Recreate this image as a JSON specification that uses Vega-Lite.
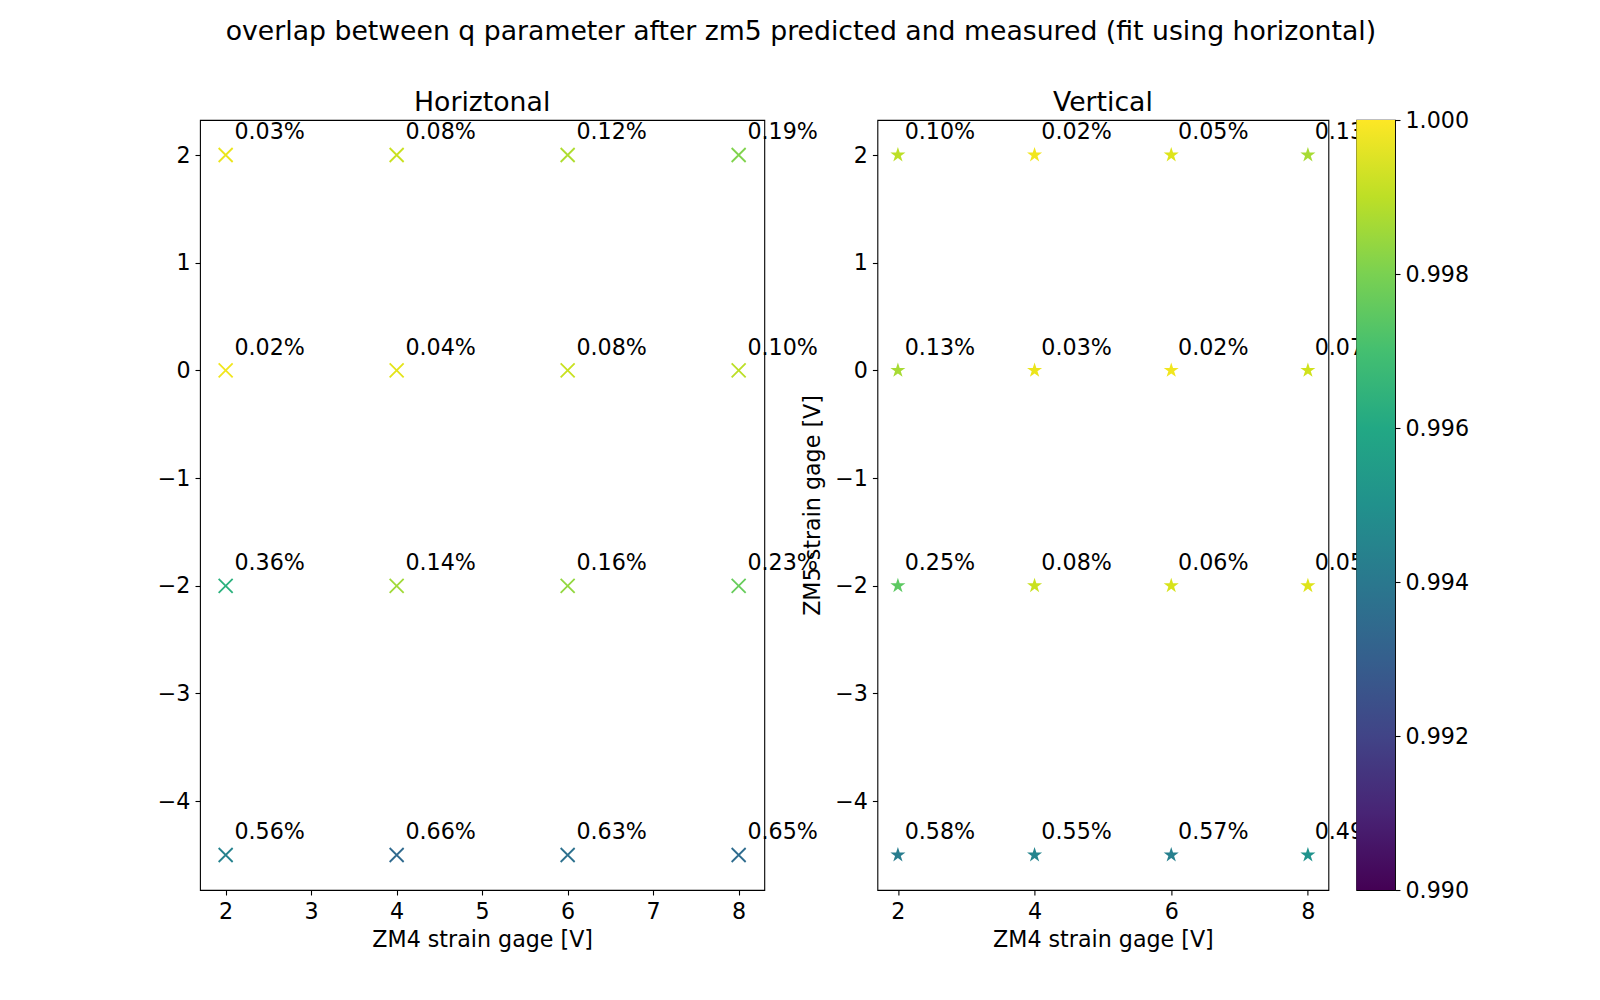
{
  "$schema": "https://vega.github.io/schema/vega-lite/v6.json",
  "autosize": {"type": "none"},
  "padding": {"left": 200, "top": 120, "right": 1400, "bottom": 880},
  "background": "white",
  "title": {
    "text": "overlap between q parameter after zm5 predicted and measured (fit using horizontal)",
    "anchor": "middle",
    "fontSize": 26.7,
    "baseline": "alphabetic",
    "offset": 23,
    "dx": -12
  },
  "config": {
    "font": "DejaVu Sans",
    "view": {"stroke": "black", "strokeWidth": 1.1},
    "axis": {
      "domain": false,
      "grid": false,
      "tickColor": "black",
      "tickSize": 5,
      "tickWidth": 1.1,
      "labelFont": "DejaVu Sans",
      "labelFontSize": 22.2,
      "labelColor": "black",
      "labelFlush": false,
      "labelOverlap": false,
      "titleFont": "DejaVu Sans",
      "titleFontSize": 22.2,
      "titleFontWeight": "normal",
      "titleColor": "black"
    },
    "axisX": {"labelAngle": 0, "labelPadding": 5.5, "titlePadding": 6},
    "axisY": {"labelPadding": 5, "titlePadding": 10},
    "title": {"font": "DejaVu Sans", "fontSize": 26.7, "fontWeight": "normal", "color": "black"}
  },
  "datasets": {
    "horizontal": [
      {"x": 2, "y": 2, "overlap": 0.9997, "label": "0.03%"},
      {"x": 4, "y": 2, "overlap": 0.9992, "label": "0.08%"},
      {"x": 6, "y": 2, "overlap": 0.9988, "label": "0.12%"},
      {"x": 8, "y": 2, "overlap": 0.9981, "label": "0.19%"},
      {"x": 2, "y": 0, "overlap": 0.9998, "label": "0.02%"},
      {"x": 4, "y": 0, "overlap": 0.9996, "label": "0.04%"},
      {"x": 6, "y": 0, "overlap": 0.9992, "label": "0.08%"},
      {"x": 8, "y": 0, "overlap": 0.999, "label": "0.10%"},
      {"x": 2, "y": -2, "overlap": 0.9964, "label": "0.36%"},
      {"x": 4, "y": -2, "overlap": 0.9986, "label": "0.14%"},
      {"x": 6, "y": -2, "overlap": 0.9984, "label": "0.16%"},
      {"x": 8, "y": -2, "overlap": 0.9977, "label": "0.23%"},
      {"x": 2, "y": -4.5, "overlap": 0.9944, "label": "0.56%"},
      {"x": 4, "y": -4.5, "overlap": 0.9934, "label": "0.66%"},
      {"x": 6, "y": -4.5, "overlap": 0.9937, "label": "0.63%"},
      {"x": 8, "y": -4.5, "overlap": 0.9935, "label": "0.65%"}
    ],
    "vertical": [
      {"x": 2, "y": 2, "overlap": 0.999, "label": "0.10%"},
      {"x": 4, "y": 2, "overlap": 0.9998, "label": "0.02%"},
      {"x": 6, "y": 2, "overlap": 0.9995, "label": "0.05%"},
      {"x": 8, "y": 2, "overlap": 0.9987, "label": "0.13%"},
      {"x": 2, "y": 0, "overlap": 0.9987, "label": "0.13%"},
      {"x": 4, "y": 0, "overlap": 0.9997, "label": "0.03%"},
      {"x": 6, "y": 0, "overlap": 0.9998, "label": "0.02%"},
      {"x": 8, "y": 0, "overlap": 0.9993, "label": "0.07%"},
      {"x": 2, "y": -2, "overlap": 0.9975, "label": "0.25%"},
      {"x": 4, "y": -2, "overlap": 0.9992, "label": "0.08%"},
      {"x": 6, "y": -2, "overlap": 0.9994, "label": "0.06%"},
      {"x": 8, "y": -2, "overlap": 0.9995, "label": "0.05%"},
      {"x": 2, "y": -4.5, "overlap": 0.9942, "label": "0.58%"},
      {"x": 4, "y": -4.5, "overlap": 0.9945, "label": "0.55%"},
      {"x": 6, "y": -4.5, "overlap": 0.9943, "label": "0.57%"},
      {"x": 8, "y": -4.5, "overlap": 0.9951, "label": "0.49%"}
    ],
    "colorbar": [
      {"lo": 0.99, "hi": 1.0}
    ]
  },
  "bounds": "flush",
  "spacing": 112.4,
  "hconcat": [
    {
      "width": 564.3,
      "height": 770,
      "title": {"text": "Horiztonal", "anchor": "middle", "frame": "group", "baseline": "alphabetic", "offset": 8, "dy": 26},
      "data": {"name": "horizontal"},
      "encoding": {
        "x": {
          "field": "x",
          "type": "quantitative",
          "scale": {"domain": [1.7, 8.3], "nice": false, "zero": false},
          "axis": {"values": [2, 3, 4, 5, 6, 7, 8], "title": "ZM4 strain gage [V]"}
        },
        "y": {
          "field": "y",
          "type": "quantitative",
          "scale": {"domain": [-4.825, 2.325], "nice": false, "zero": false},
          "axis": {"values": [-4, -3, -2, -1, 0, 1, 2], "title": null}
        }
      },
      "layer": [
        {
          "mark": {"type": "point", "shape": "M-1,-1L1,1M-1,1L1,-1", "filled": false, "size": 196, "strokeWidth": 1.8, "opacity": 1},
          "encoding": {
            "stroke": {
              "field": "overlap",
              "type": "quantitative",
              "scale": {"scheme": "viridis", "domain": [0.99, 1.0]},
              "legend": null
            }
          }
        },
        {
          "mark": {"type": "text", "align": "left", "baseline": "alphabetic", "dx": 8.8, "dy": -15.7, "font": "DejaVu Sans", "fontSize": 22.2, "color": "black"},
          "encoding": {"text": {"field": "label", "type": "nominal"}}
        }
      ]
    },
    {
      "bounds": "flush",
      "spacing": 28,
      "hconcat": [
        {
          "width": 451,
          "height": 770,
          "title": {"text": "Vertical", "anchor": "middle", "frame": "group", "baseline": "alphabetic", "offset": 8, "dy": 26},
          "data": {"name": "vertical"},
          "encoding": {
            "x": {
              "field": "x",
              "type": "quantitative",
              "scale": {"domain": [1.7, 8.3], "nice": false, "zero": false},
              "axis": {"values": [2, 4, 6, 8], "title": "ZM4 strain gage [V]"}
            },
            "y": {
              "field": "y",
              "type": "quantitative",
              "scale": {"domain": [-4.825, 2.325], "nice": false, "zero": false},
              "axis": {"values": [-4, -3, -2, -1, 0, 1, 2], "title": "ZM5 strain gage [V]"}
            }
          },
          "layer": [
            {
              "mark": {"type": "point", "shape": "M0,-1L0.225,-0.309L0.951,-0.309L0.363,0.118L0.588,0.809L0,0.382L-0.588,0.809L-0.363,0.118L-0.951,-0.309L-0.225,-0.309Z", "filled": true, "size": 250, "opacity": 1},
              "encoding": {
                "fill": {
                  "field": "overlap",
                  "type": "quantitative",
                  "scale": {"scheme": "viridis", "domain": [0.99, 1.0]},
                  "legend": null
                }
              }
            },
            {
              "mark": {"type": "text", "align": "left", "baseline": "alphabetic", "dx": 6.8, "dy": -15.7, "font": "DejaVu Sans", "fontSize": 22.2, "color": "black"},
              "encoding": {"text": {"field": "label", "type": "nominal"}}
            }
          ]
        },
        {
          "width": 38.6,
          "height": 770,
          "data": {"name": "colorbar"},
          "mark": {
            "type": "rect",
            "color": {
              "gradient": "linear",
              "x1": 0, "y1": 1, "x2": 0, "y2": 0,
              "stops": [
                {"offset": 0, "color": "#440154"},
                {"offset": 0.1, "color": "#482475"},
                {"offset": 0.2, "color": "#414487"},
                {"offset": 0.3, "color": "#355f8d"},
                {"offset": 0.4, "color": "#2a788e"},
                {"offset": 0.5, "color": "#21918c"},
                {"offset": 0.6, "color": "#22a884"},
                {"offset": 0.7, "color": "#44bf70"},
                {"offset": 0.8, "color": "#7ad151"},
                {"offset": 0.9, "color": "#bddf26"},
                {"offset": 1, "color": "#fde725"}
              ]
            }
          },
          "encoding": {
            "y": {
              "field": "lo",
              "type": "quantitative",
              "scale": {"domain": [0.99, 1.0], "nice": false, "zero": false},
              "axis": {"orient": "right", "values": [0.99, 0.992, 0.994, 0.996, 0.998, 1.0], "format": ".3f", "title": null}
            },
            "y2": {"field": "hi"}
          }
        }
      ]
    }
  ]
}
